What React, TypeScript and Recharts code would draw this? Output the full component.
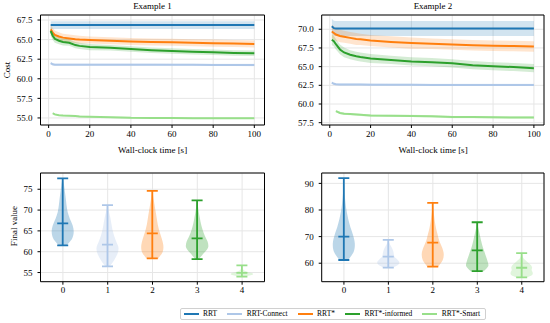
import React from "react";
import { ComposedChart, Line, Area, Bar, XAxis, YAxis, CartesianGrid, ReferenceArea } from "recharts";

const FONT = '"Liberation Serif", "Times New Roman", serif';
const FS = 9;

const planners = ["RRT", "RRT-Connect", "RRT*", "RRT*-informed", "RRT*-Smart"];
const colors = ["#1f77b4", "#aec7e8", "#ff7f0e", "#2ca02c", "#98df8a"];
const bandFills = ["rgba(31,119,180,0.2)", "rgba(174,199,232,0.3)", "rgba(255,127,14,0.2)", "rgba(44,160,44,0.2)", "rgba(152,223,138,0.3)"];

// wall-clock sample times [s]
const times = [1, 2, 3, 5, 7, 10, 13, 15, 20, 30, 40, 50, 60, 70, 80, 90, 100];

// Example 1: mean cost over time
const ex1Rrt = [66.85, 66.85, 66.85, 66.85, 66.85, 66.85, 66.85, 66.85, 66.85, 66.85, 66.85, 66.85, 66.85, 66.85, 66.85, 66.85, 66.85];
const ex1Connect = [62.0, 61.85, 61.8, 61.8, 61.8, 61.8, 61.8, 61.8, 61.8, 61.8, 61.8, 61.8, 61.78, 61.78, 61.77, 61.77, 61.76];
const ex1Star = [66.3, 65.9, 65.6, 65.4, 65.25, 65.15, 65.05, 65.0, 64.95, 64.85, 64.75, 64.7, 64.65, 64.6, 64.55, 64.5, 64.45];
const ex1Informed = [66.1, 65.5, 65.1, 64.85, 64.7, 64.6, 64.3, 64.2, 64.05, 63.95, 63.8, 63.65, 63.55, 63.45, 63.4, 63.3, 63.25];
const ex1Smart = [null, 55.6, 55.45, 55.35, 55.3, 55.28, 55.25, 55.2, 55.15, 55.1, 55.02, 55.0, 54.98, 54.97, 54.96, 54.95, 54.95];

// Example 1: half-width of the shaded band
const ex1RrtBand = [0.5, 0.5, 0.5, 0.5, 0.5, 0.5, 0.5, 0.5, 0.5, 0.5, 0.5, 0.5, 0.5, 0.5, 0.5, 0.5, 0.5];
const ex1ConnectBand = [0.2, 0.15, 0.15, 0.15, 0.15, 0.15, 0.15, 0.15, 0.15, 0.15, 0.15, 0.15, 0.15, 0.15, 0.15, 0.15, 0.15];
const ex1StarBand = [0.6, 0.6, 0.55, 0.55, 0.5, 0.5, 0.5, 0.5, 0.45, 0.45, 0.45, 0.45, 0.45, 0.45, 0.45, 0.45, 0.45];
const ex1InformedBand = [0.6, 0.55, 0.5, 0.45, 0.45, 0.4, 0.4, 0.4, 0.4, 0.35, 0.35, 0.35, 0.35, 0.35, 0.35, 0.35, 0.35];
const ex1SmartBand = [0, 0.15, 0.12, 0.1, 0.1, 0.1, 0.1, 0.1, 0.1, 0.1, 0.1, 0.1, 0.1, 0.1, 0.1, 0.1, 0.1];

// Example 2: mean cost over time
const ex2Rrt = [70.4, 70.15, 70.1, 70.1, 70.1, 70.1, 70.1, 70.1, 70.1, 70.1, 70.1, 70.1, 70.1, 70.1, 70.1, 70.1, 70.1];
const ex2Connect = [62.85, 62.7, 62.65, 62.6, 62.6, 62.6, 62.6, 62.6, 62.58, 62.57, 62.56, 62.55, 62.55, 62.55, 62.55, 62.55, 62.55];
const ex2Star = [69.7, 69.5, 69.3, 69.1, 69.0, 68.85, 68.7, 68.65, 68.5, 68.3, 68.15, 68.05, 67.95, 67.85, 67.8, 67.75, 67.7];
const ex2Informed = [68.6, 68.4, 68.0, 67.3, 66.9, 66.6, 66.4, 66.3, 66.1, 65.9, 65.7, 65.6, 65.45, 65.2, 65.05, 64.95, 64.8];
const ex2Smart = [null, null, 59.05, 58.8, 58.7, 58.65, 58.6, 58.55, 58.45, 58.42, 58.4, 58.35, 58.25, 58.25, 58.22, 58.2, 58.2];

const ex2RrtBand = [1.0, 1.0, 1.0, 1.0, 1.0, 1.0, 1.0, 1.0, 1.0, 1.0, 1.0, 1.0, 1.0, 1.0, 1.0, 1.0, 1.0];
const ex2ConnectBand = [0.15, 0.15, 0.15, 0.15, 0.15, 0.15, 0.15, 0.15, 0.15, 0.15, 0.15, 0.15, 0.15, 0.15, 0.15, 0.15, 0.15];
const ex2StarBand = [0.9, 0.9, 0.85, 0.85, 0.8, 0.8, 0.8, 0.75, 0.75, 0.75, 0.75, 0.7, 0.7, 0.7, 0.7, 0.7, 0.7];
const ex2InformedBand = [0.7, 0.7, 0.7, 0.65, 0.65, 0.6, 0.6, 0.6, 0.6, 0.55, 0.55, 0.55, 0.55, 0.55, 0.55, 0.55, 0.55];
const ex2SmartBand = [0, 0, 0.15, 0.15, 0.15, 0.15, 0.15, 0.15, 0.15, 0.15, 0.15, 0.15, 0.15, 0.15, 0.15, 0.15, 0.15];

// final values: whisker ends, centre line, density profile (bottom -> top, relative width)
const ex1Lo = [61.5, 56.5, 58.4, 58.2, 54.0];
const ex1Hi = [77.6, 71.2, 74.6, 72.35, 56.7];
const ex1Mid = [66.8, 61.7, 64.4, 63.2, 54.9];
const ex1Shapes = [
  [0.35, 0.85, 1.0, 0.9, 0.65, 0.45, 0.35, 0.28, 0.2, 0.12, 0.03],
  [0.2, 0.6, 0.9, 1.0, 0.8, 0.6, 0.45, 0.35, 0.25, 0.12, 0.03],
  [0.55, 0.95, 1.0, 0.85, 0.65, 0.5, 0.4, 0.3, 0.2, 0.1, 0.03],
  [0.15, 0.6, 1.0, 0.95, 0.7, 0.5, 0.35, 0.25, 0.15, 0.08, 0.02],
  [0.2, 0.7, 1.0, 0.95, 0.6, 0.3, 0.15, 0.08, 0.05, 0.03, 0.02],
];

const ex2Lo = [61.2, 58.35, 58.7, 57.0, 54.7];
const ex2Hi = [92.0, 68.8, 82.7, 75.4, 63.8];
const ex2Mid = [70.0, 62.5, 67.7, 64.8, 58.3];
const ex2Shapes = [
  [0.4, 0.9, 1.0, 0.85, 0.6, 0.4, 0.25, 0.15, 0.08, 0.04, 0.01],
  [0.45, 0.9, 1.0, 0.8, 0.55, 0.5, 0.45, 0.35, 0.2, 0.08, 0.02],
  [0.5, 0.9, 1.0, 0.85, 0.6, 0.45, 0.3, 0.2, 0.12, 0.05, 0.01],
  [0.6, 1.0, 0.95, 0.8, 0.65, 0.5, 0.38, 0.28, 0.18, 0.08, 0.02],
  [0.5, 0.95, 1.0, 0.9, 0.95, 0.85, 0.6, 0.35, 0.15, 0.06, 0.02],
];

const costTicksX = [0, 20, 40, 60, 80, 100];
const ex1CostTicks = [55, 57.5, 60, 62.5, 65, 67.5];
const ex2CostTicks = [57.5, 60, 62.5, 65, 67.5, 70];
const ex1FinalTicks = [55, 60, 65, 70, 75];
const ex2FinalTicks = [60, 70, 80, 90];

// band = lower edge + stacked width
function buildCurves(means: (number | null)[][], bands: number[][]) {
  return times.map((t, i) => {
    const row: any = { t };
    means.forEach((m, k) => {
      const v = m[i];
      row[`m${k}`] = v;
      row[`lo${k}`] = v == null ? null : v - bands[k][i];
      row[`w${k}`] = v == null ? null : 2 * bands[k][i];
    });
    return row;
  });
}

function buildViolins(lo: number[], hi: number[], mid: number[], shapes: number[][]) {
  return lo.map((l, i) => ({
    name: String(i),
    range: [l, hi[i]],
    lo: l,
    hi: hi[i],
    mid: mid[i],
    shape: shapes[i],
    color: colors[i],
  }));
}

const ex1Curves = buildCurves(
  [ex1Rrt, ex1Connect, ex1Star, ex1Informed, ex1Smart],
  [ex1RrtBand, ex1ConnectBand, ex1StarBand, ex1InformedBand, ex1SmartBand]
);
const ex2Curves = buildCurves(
  [ex2Rrt, ex2Connect, ex2Star, ex2Informed, ex2Smart],
  [ex2RrtBand, ex2ConnectBand, ex2StarBand, ex2InformedBand, ex2SmartBand]
);
const ex1Violins = buildViolins(ex1Lo, ex1Hi, ex1Mid, ex1Shapes);
const ex2Violins = buildViolins(ex2Lo, ex2Hi, ex2Mid, ex2Shapes);

const GRID = "#e6e6e6";

function XTick(props: any) {
  const { x, y, payload } = props;
  return (
    <text x={x} y={y} dy="0.75em" textAnchor="middle" fontFamily={FONT} fontSize={FS} fill="#000">
      {payload.value}
    </text>
  );
}

function YTick(props: any) {
  const { x, y, payload, digits } = props;
  const v = digits ? Number(payload.value).toFixed(digits) : payload.value;
  return (
    <text x={x} y={y} dy="0.35em" textAnchor="end" fontFamily={FONT} fontSize={FS} fill="#000">
      {v}
    </text>
  );
}

// catmull-rom through the points, as cubic beziers
function smooth(pts: [number, number][]) {
  let d = "";
  for (let i = 0; i < pts.length - 1; i++) {
    const p0 = pts[Math.max(i - 1, 0)];
    const p1 = pts[i];
    const p2 = pts[i + 1];
    const p3 = pts[Math.min(i + 2, pts.length - 1)];
    const c1 = [p1[0] + (p2[0] - p0[0]) / 6, p1[1] + (p2[1] - p0[1]) / 6];
    const c2 = [p2[0] - (p3[0] - p1[0]) / 6, p2[1] - (p3[1] - p1[1]) / 6];
    d += ` C${c1[0]},${c1[1]} ${c2[0]},${c2[1]} ${p2[0]},${p2[1]}`;
  }
  return d;
}

function Violin(props: any) {
  const { x, y, width, height, payload } = props;
  if (x == null || y == null) return null;
  const top = Math.min(y, y + height);
  const h = Math.abs(height);
  const cx = x + width / 2;
  const half = width / 2;
  const cap = width / 4;
  const prof: number[] = payload.shape;
  const n = prof.length;
  const right: [number, number][] = prof.map((w, i) => [cx + half * w, top + h * (1 - i / (n - 1))]);
  const left: [number, number][] = prof.map((w, i) => [cx - half * w, top + h * (1 - i / (n - 1))]).reverse() as any;
  const d =
    `M${right[0][0]},${right[0][1]}` + smooth(right) +
    ` L${left[0][0]},${left[0][1]}` + smooth(left) + " Z";
  const midY = top + (h * (payload.hi - payload.mid)) / (payload.hi - payload.lo);
  const c = payload.color;
  return (
    <g>
      <path d={d} fill={c} fillOpacity={0.3} stroke="none" />
      <line x1={cx} x2={cx} y1={top} y2={top + h} stroke={c} strokeWidth={1.8} />
      <line x1={cx - cap} x2={cx + cap} y1={top} y2={top} stroke={c} strokeWidth={1.8} />
      <line x1={cx - cap} x2={cx + cap} y1={top + h} y2={top + h} stroke={c} strokeWidth={1.8} />
      <line x1={cx - cap} x2={cx + cap} y1={midY} y2={midY} stroke={c} strokeWidth={1.8} />
    </g>
  );
}

function CostChart({ data, domain, ticks, yWidth, right }: any) {
  return (
    <ComposedChart width={275} height={160} data={data} margin={{ top: 15, right, bottom: 15, left: 0 }}>
      <CartesianGrid stroke={GRID} />
      <XAxis
        dataKey="t"
        type="number"
        domain={[-3.95, 104.95]}
        ticks={costTicksX}
        interval={0}
        allowDataOverflow
        height={20}
        tickSize={3}
        tickMargin={2}
        tick={<XTick />}
        axisLine={false}
        tickLine={{ stroke: "#000" }}
      />
      <YAxis
        type="number"
        domain={domain}
        ticks={ticks}
        interval={0}
        allowDataOverflow
        width={yWidth}
        tickSize={3}
        tickMargin={5}
        tick={<YTick digits={1} />}
        axisLine={false}
        tickLine={{ stroke: "#000" }}
      />
      {planners.map((p, k) => [
        <Area
          key={`base-${p}`}
          dataKey={`lo${k}`}
          stackId={`band${k}`}
          type="linear"
          stroke="none"
          fill="none"
          fillOpacity={0}
          dot={false}
          activeDot={false}
          isAnimationActive={false}
        />,
        <Area
          key={`band-${p}`}
          dataKey={`w${k}`}
          stackId={`band${k}`}
          type="linear"
          stroke="none"
          fill={bandFills[k]}
          fillOpacity={1}
          dot={false}
          activeDot={false}
          isAnimationActive={false}
        />,
      ])}
      {planners.map((p, k) => (
        <Line
          key={`line-${p}`}
          dataKey={`m${k}`}
          type="linear"
          stroke={colors[k]}
          strokeWidth={2}
          dot={false}
          activeDot={false}
          isAnimationActive={false}
        />
      ))}
      <ReferenceArea y1={domain[0]} y2={domain[1]} fill="none" fillOpacity={0} stroke="#000" strokeWidth={1} ifOverflow="visible" />
    </ComposedChart>
  );
}

function FinalChart({ data, domain, ticks, yWidth, right }: any) {
  return (
    <ComposedChart width={275} height={140} data={data} margin={{ top: 13, right, bottom: 0, left: 0 }} barCategoryGap="25%">
      <CartesianGrid stroke={GRID} />
      <XAxis
        dataKey="name"
        height={18.3}
        interval={0}
        tickSize={3}
        tickMargin={2}
        tick={<XTick />}
        axisLine={false}
        tickLine={{ stroke: "#000" }}
      />
      <YAxis
        type="number"
        domain={domain}
        ticks={ticks}
        interval={0}
        allowDataOverflow
        width={yWidth}
        tickSize={3}
        tickMargin={5}
        tick={<YTick />}
        axisLine={false}
        tickLine={{ stroke: "#000" }}
      />
      <Bar dataKey="range" shape={<Violin />} isAnimationActive={false} />
      <ReferenceArea y1={domain[0]} y2={domain[1]} fill="none" fillOpacity={0} stroke="#000" strokeWidth={1} ifOverflow="visible" />
    </ComposedChart>
  );
}

const text = (extra: React.CSSProperties): React.CSSProperties => ({
  position: "absolute",
  fontFamily: FONT,
  fontSize: FS,
  color: "#000",
  whiteSpace: "nowrap",
  lineHeight: 1,
  transform: "translate(-50%, -50%)",
  ...extra,
});

export default function App() {
  return (
    <div style={{ position: "absolute", left: 0, top: 0, width: 550, height: 323, background: "#fff", overflow: "hidden", fontFamily: FONT }}>
      <div style={{ position: "absolute", left: 0, top: 0 }}>
        <CostChart data={ex1Curves} domain={[54.1, 68.14]} ticks={ex1CostTicks} yWidth={40.5} right={10.5} />
      </div>
      <div style={{ position: "absolute", left: 275, top: 0 }}>
        <CostChart data={ex2Curves} domain={[57.19, 71.91]} ticks={ex2CostTicks} yWidth={46.7} right={6} />
      </div>
      <div style={{ position: "absolute", left: 0, top: 160 }}>
        <FinalChart data={ex1Violins} domain={[52.8, 78.9]} ticks={ex1FinalTicks} yWidth={40.5} right={10.5} />
      </div>
      <div style={{ position: "absolute", left: 275, top: 160 }}>
        <FinalChart data={ex2Violins} domain={[53.05, 93.9]} ticks={ex2FinalTicks} yWidth={46.7} right={6} />
      </div>

      <div style={text({ left: 152.5, top: 6 })}>Example 1</div>
      <div style={text({ left: 433, top: 6 })}>Example 2</div>
      <div style={text({ left: 152.5, top: 150 })}>Wall-clock time [s]</div>
      <div style={text({ left: 433, top: 150 })}>Wall-clock time [s]</div>
      <div style={text({ left: 7, top: 70, transform: "translate(-50%, -50%) rotate(-90deg)" })}>Cost</div>
      <div style={text({ left: 13.5, top: 226, transform: "translate(-50%, -50%) rotate(-90deg)" })}>Final value</div>

      <div
        style={{
          position: "absolute",
          left: 180,
          top: 307.5,
          width: 306,
          height: 12.5,
          boxSizing: "border-box",
          border: "1px solid #d0d0d0",
          borderRadius: 2,
          display: "flex",
          alignItems: "center",
          paddingLeft: 2.5,
          fontFamily: FONT,
          fontSize: 7.5,
          lineHeight: 1,
          whiteSpace: "nowrap",
        }}
      >
        {planners.map((p, k) => (
          <div key={p} style={{ display: "flex", alignItems: "center", marginRight: 10 }}>
            <span style={{ display: "inline-block", width: 15, height: 2.2, background: colors[k], marginRight: 4.5 }} />
            <span>{p}</span>
          </div>
        ))}
      </div>
    </div>
  );
}
